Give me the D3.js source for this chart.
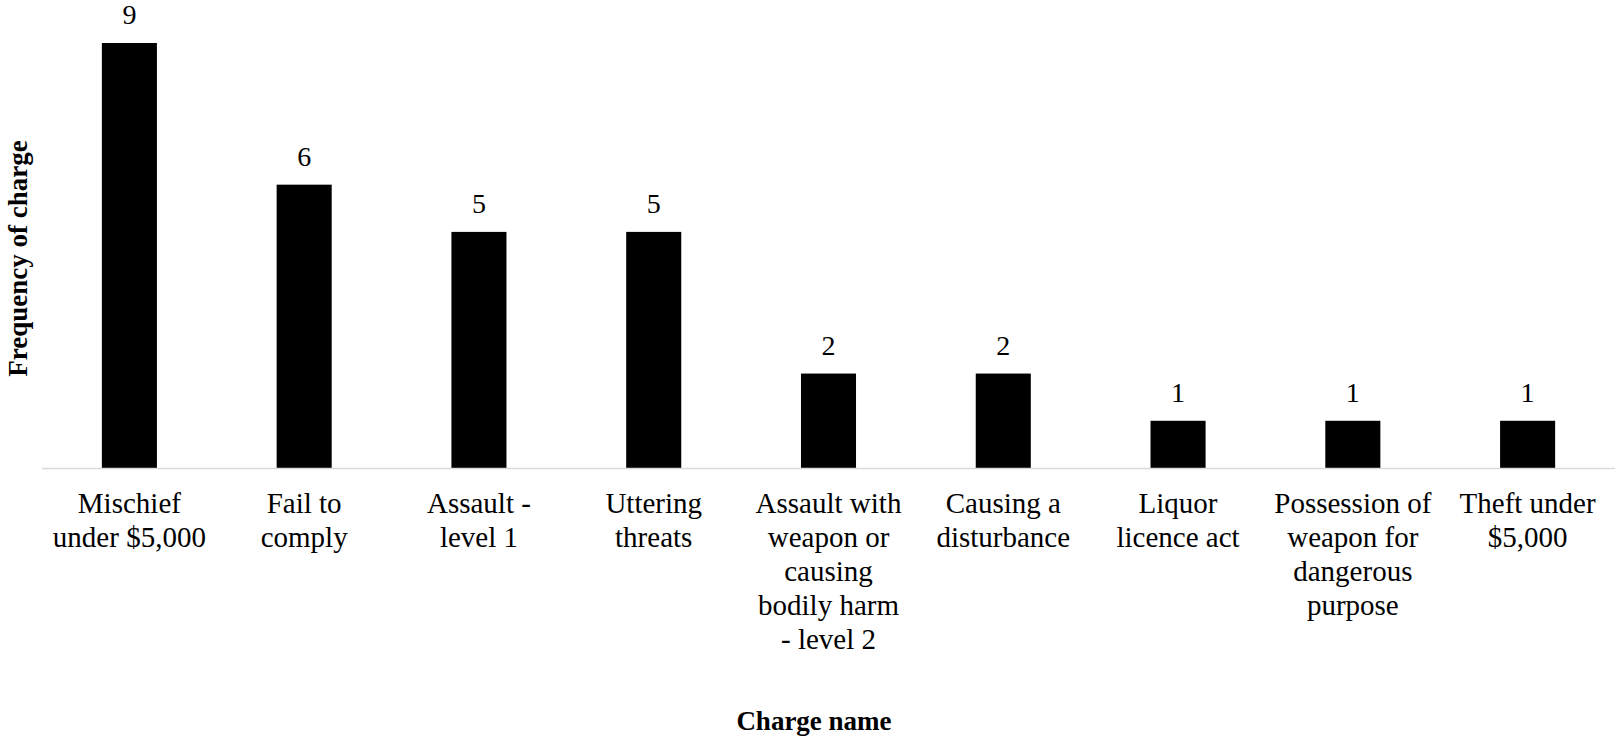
<!DOCTYPE html>
<html>
<head>
<meta charset="utf-8">
<script src="https://cdn.jsdelivr.net/npm/d3@7"></script>
<style>
  body { margin: 0; background: #fff; }
  text { font-family: "Liberation Serif", "Times New Roman", serif; }
</style>
</head>
<body>
<div id="bar_chart"></div>
<script>
// chart data
var categories = [
    "Mischief|under $5,000",
    "Fail to|comply",
    "Assault -|level 1",
    "Uttering|threats",
    "Assault with|weapon or|causing|bodily harm|- level 2",
    "Causing a|disturbance",
    "Liquor|licence act",
    "Possession of|weapon for|dangerous|purpose",
    "Theft under|$5,000"
];
var counts = [9, 6, 5, 5, 2, 2, 1, 1, 1];

// set the dimensions of the graph
var width = 1615, height = 741;
var left = 42, right = 1615, baseline = 468, top9 = 43;

var svg = d3.select("#bar_chart")
    .append("svg")
    .attr("width", width)
    .attr("height", height);

// X axis
var x = d3.scaleBand()
    .domain(categories)
    .range([left, right])
    .paddingInner(0.685)
    .paddingOuter(0.3425);

// Y axis
var y = d3.scaleLinear()
    .domain([0, 9])
    .range([baseline, top9]);

// bars
svg.selectAll("rect.bar")
    .data(counts)
    .enter()
    .append("rect")
    .attr("class", "bar")
    .attr("x", function(d, i) { return x(categories[i]); })
    .attr("y", function(d) { return y(d); })
    .attr("width", x.bandwidth())
    .attr("height", function(d) { return y(0) - y(d); })
    .attr("fill", "#000");

// axis line
svg.append("line")
    .attr("x1", left)
    .attr("x2", right)
    .attr("y1", y(0) + 0.5)
    .attr("y2", y(0) + 0.5)
    .attr("stroke", "#d9d9d9")
    .attr("stroke-width", 1.5);

// value labels
svg.selectAll("text.val")
    .data(counts)
    .enter()
    .append("text")
    .attr("class", "val")
    .attr("x", function(d, i) { return x(categories[i]) + x.bandwidth() / 2; })
    .attr("y", function(d) { return y(d) - 19; })
    .attr("text-anchor", "middle")
    .style("font-size", "28px")
    .text(function(d) { return d; });

// category labels (wrapped lines)
var labels = svg.selectAll("text.cat")
    .data(categories)
    .enter()
    .append("text")
    .attr("class", "cat")
    .attr("text-anchor", "middle")
    .style("font-size", "29px")
    .attr("x", function(d) { return x(d) + x.bandwidth() / 2; })
    .attr("y", y(0) + 45);

labels.each(function(d) {
    var t = d3.select(this);
    d.split("|").forEach(function(line, j) {
        t.append("tspan")
            .attr("x", x(d) + x.bandwidth() / 2)
            .attr("y", y(0) + 45 + j * 34)
            .text(line);
    });
});

// axis titles
svg.append("text")
    .attr("x", 814)
    .attr("y", 730)
    .attr("text-anchor", "middle")
    .style("font-size", "27px")
    .style("font-weight", "bold")
    .text("Charge name");

svg.append("text")
    .attr("transform", "translate(27," + (y(4.5) + 3) + ")rotate(-90)")
    .attr("text-anchor", "middle")
    .style("font-size", "27px")
    .style("font-weight", "bold")
    .text("Frequency of charge");
</script>
</body>
</html>
